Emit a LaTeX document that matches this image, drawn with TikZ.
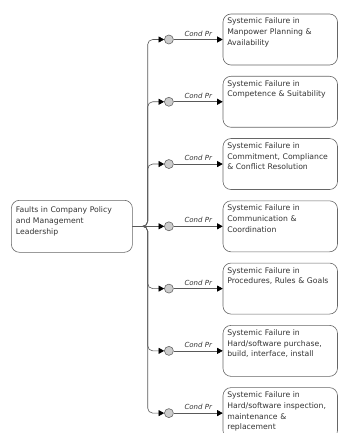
\documentclass[tikz,border=0pt]{standalone}
\usepackage{fontspec}
\setmainfont{DejaVu Sans}
\usetikzlibrary{arrows.meta,positioning}
\hyphenpenalty=10000

\begin{document}
\begin{tikzpicture}[->,>={Triangle[length=5.5pt,width=6pt,color=black]},node distance=10.67pt,semithick]
	\tikzstyle{every node}=[font=\fontsize{7.7}{10.7}\selectfont,text=black!80]
	\tikzstyle{fail}=[draw=black!60,rounded corners=8pt,align=left,text width=106pt,inner xsep=4.25pt,inner ysep=3pt,text height=7pt,text depth=38pt]
	\tikzstyle{cause}=[draw=black!60,rounded corners=8pt,align=left,text width=112pt,inner xsep=4.5pt,inner ysep=3pt,text height=9.5pt,text depth=36.5pt]
	\tikzstyle{gate}=[circle,draw=black!60,fill=black!20,minimum size=9pt,inner sep=0pt]
	\tikzstyle{wire}=[draw=black!65,rounded corners=5pt]
	\tikzstyle{cond}=[above,font=\fontsize{7}{8}\selectfont\itshape,inner sep=3pt]

	\useasboundingbox (0,0) rectangle (338pt,-433pt);

	\node[fail] (b1) at (280.25pt,-39.5pt) {Systemic Failure in\\Manpower Planning \&\\Availability};
	\node[fail] (b2) [below = of b1] {Systemic Failure in\\Competence \& Suitability};
	\node[fail] (b3) [below = of b2] {Systemic Failure in\\Commitment, Compliance\\\& Conflict Resolution};
	\node[fail] (b4) [below = of b3] {Systemic Failure in\\Communication \&\\Coordination};
	\node[fail] (b5) [below = of b4] {Systemic Failure in\\Procedures, Rules \& Goals};
	\node[fail] (b6) [below = of b5] {Systemic Failure in\\Hard/software purchase,\\build, interface, install};
	\node[fail] (b7) [below = of b6] {Systemic Failure in\\Hard/software inspection,\\maintenance \&\\replacement};

	\node[cause] (top) [left = 90pt of b4] {Faults in Company Policy\\and Management\\Leadership};
	\coordinate (trunk) at ([xshift=15pt]top.east);

	\node[gate] (g1) [left = 49pt of b1] {};
	\node[gate] (g2) [left = 49pt of b2] {};
	\node[gate] (g3) [left = 49pt of b3] {};
	\node[gate] (g4) [left = 49pt of b4] {};
	\node[gate] (g5) [left = 49pt of b5] {};
	\node[gate] (g6) [left = 49pt of b6] {};
	\node[gate] (g7) [left = 49pt of b7] {};

	% trunk and branches
	\draw[wire] (top.east) -| (trunk |- g1) -- (g1);
	\draw[wire] (top.east) -| (trunk |- g2) -- (g2);
	\draw[wire] (top.east) -| (trunk |- g3) -- (g3);
	\draw[wire] (top.east) -- (g4);
	\draw[wire] (top.east) -| (trunk |- g5) -- (g5);
	\draw[wire] (top.east) -| (trunk |- g6) -- (g6);
	\draw[wire] (top.east) -| (trunk |- g7) -- (g7);

	\draw[wire] (g1) -- node[cond] {Cond Pr} (b1);
	\draw[wire] (g2) -- node[cond] {Cond Pr} (b2);
	\draw[wire] (g3) -- node[cond] {Cond Pr} (b3);
	\draw[wire] (g4) -- node[cond] {Cond Pr} (b4);
	\draw[wire] (g5) -- node[cond] {Cond Pr} (b5);
	\draw[wire] (g6) -- node[cond] {Cond Pr} (b6);
	\draw[wire] (g7) -- node[cond] {Cond Pr} (b7);
\end{tikzpicture}
\end{document}
